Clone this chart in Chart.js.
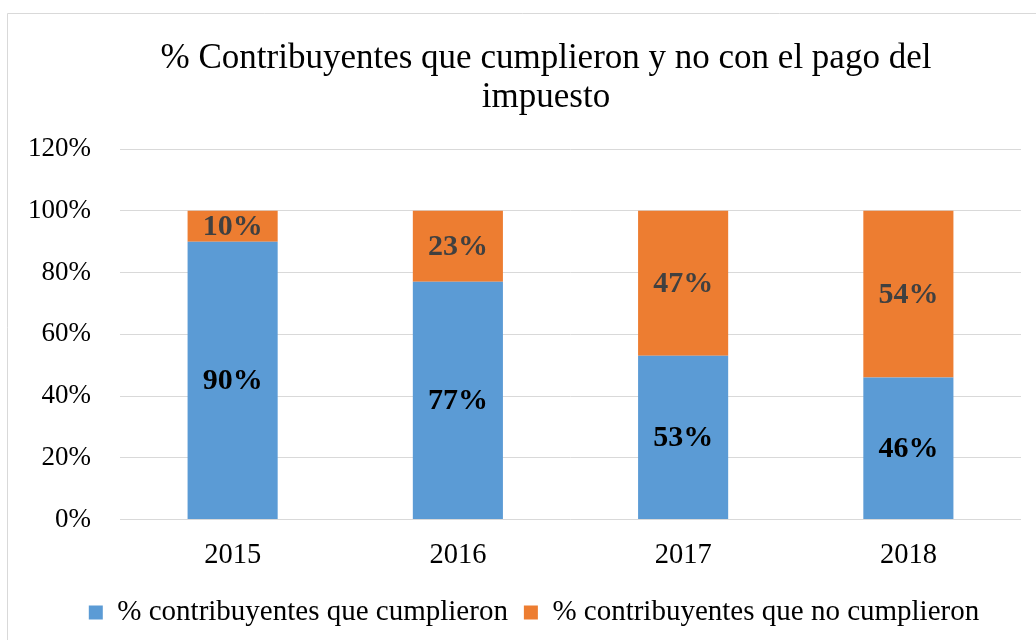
<!DOCTYPE html>
<html>
<head>
<meta charset="utf-8">
<script src="https://cdn.jsdelivr.net/npm/chart.js@4/dist/chart.umd.min.js"></script>
<style>
html,body{margin:0;padding:0;background:#fff;overflow:hidden;}
#wrap{position:absolute;left:0;top:0;width:1036px;height:640px;}
</style>
</head>
<body>
<div id="wrap"><canvas id="c" width="1036" height="640"></canvas></div>
<script>
const categories = ["2015", "2016", "2017", "2018"];
const cumplieron = [90, 77, 53, 46];
const noCumplieron = [10, 23, 47, 54];
const seriesNames = ["% contribuyentes que cumplieron", "% contribuyentes que no cumplieron"];
const titleLines = ["% Contribuyentes que cumplieron y no con el pago del", "impuesto"];
const yTicks = [0, 20, 40, 60, 80, 100, 120];

const FONT = "'Liberation Serif', 'Times New Roman', serif";

const frame = {
  id: 'frame',
  beforeDraw(chart) {
    const ctx = chart.ctx;
    ctx.save();
    ctx.fillStyle = '#fff';
    ctx.fillRect(0, 0, chart.width, chart.height);
    ctx.strokeStyle = '#d9d9d9';
    ctx.lineWidth = 1;
    ctx.beginPath();
    ctx.moveTo(7.5, chart.height + 2);
    ctx.lineTo(7.5, 13.5);
    ctx.lineTo(chart.width + 2, 13.5);
    ctx.stroke();
    ctx.restore();
  },
  afterDraw(chart) {
    const ctx = chart.ctx;
    ctx.save();
    ctx.font = "35px " + FONT;
    ctx.fillStyle = '#000';
    ctx.textAlign = 'center';
    ctx.textBaseline = 'middle';
    const ys = [59, 98];
    titleLines.forEach((t, i) => ctx.fillText(t, 546, ys[i]));
    ctx.restore();
  }
};

const labelsPlugin = {
  id: 'barLabels',
  afterDatasetsDraw(chart) {
    const ctx = chart.ctx;
    ctx.save();
    ctx.font = "bold 30px " + FONT;
    ctx.textAlign = 'center';
    ctx.textBaseline = 'middle';
    chart.data.datasets.forEach((ds, di) => {
      const meta = chart.getDatasetMeta(di);
      ctx.fillStyle = di === 0 ? '#000000' : '#404040';
      meta.data.forEach((bar, i) => {
        const p = bar.getProps(['x', 'y', 'base'], true);
        const cy = (p.y + p.base) / 2;
        ctx.fillText(ds.data[i] + '%', p.x, cy + 1);
      });
    });
    ctx.restore();
  }
};

new Chart(document.getElementById('c'), {
  type: 'bar',
  data: {
    labels: categories,
    datasets: [
      { label: seriesNames[0], data: cumplieron, backgroundColor: '#5b9bd5', borderWidth: 0, yAxisID: 'y' },
      { label: seriesNames[1], data: noCumplieron, backgroundColor: '#ed7d31', borderWidth: 0, yAxisID: 'y' }
    ]
  },
  options: {
    responsive: false,
    animation: false,
    devicePixelRatio: 1,
    layout: { padding: { left: 24, right: -8, top: 149, bottom: 3 } },
    datasets: { bar: { categoryPercentage: 1.0, barPercentage: 0.4 } },
    plugins: {
      title: { display: false },
      legend: {
        position: 'bottom',
        labels: {
          color: '#000',
          font: { family: FONT, size: 29 },
          boxWidth: 14,
          boxHeight: 14,
          padding: 16
        }
      },
      tooltip: { enabled: false }
    },
    scales: {
      x: {
        stacked: true,
        grid: { display: false },
        border: { display: false },
        afterFit(scale) { scale.height = 62.5; },
        ticks: { color: '#000', font: { family: FONT, size: 28.5 }, padding: 10.5 }
      },
      y: {
        stacked: true,
        min: 0, max: 120,
        afterBuildTicks(scale) { scale.ticks = yTicks.map(v => ({ value: v })); },
        afterFit(scale) { scale.width = 96; },
        grid: { color: '#d9d9d9', lineWidth: 1, drawTicks: false },
        border: { display: false },
        ticks: {
          color: '#000',
          font: { family: FONT, size: 27 },
          padding: 29,
          callback: v => v + '%'
        }
      },
      y2: {
        type: 'linear',
        position: 'right',
        display: true,
        grid: { display: false },
        border: { display: false },
        ticks: { display: false },
        afterFit(scale) { scale.width = 23; }
      }
    }
  },
  plugins: [frame, labelsPlugin]
});
</script>
</body>
</html>
